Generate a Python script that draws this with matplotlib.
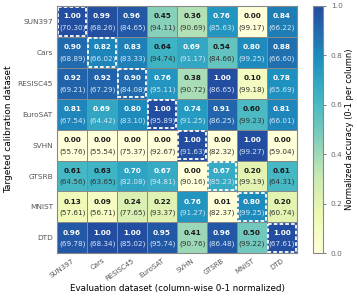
import numpy as np
import matplotlib
matplotlib.use("Agg")
import matplotlib.pyplot as plt
from matplotlib.colors import LinearSegmentedColormap
from matplotlib.patches import Rectangle

datasets = ["SUN397", "Cars", "RESISC45", "EuroSAT", "SVHN", "GTSRB", "MNIST", "DTD"]

# normalized accuracy (rows: calibration dataset, cols: evaluation dataset)
norm = np.array([
    [1.00, 0.99, 0.96, 0.45, 0.36, 0.76, 0.00, 0.84],
    [0.90, 0.82, 0.83, 0.64, 0.69, 0.54, 0.80, 0.88],
    [0.92, 0.92, 0.90, 0.76, 0.38, 1.00, 0.10, 0.78],
    [0.81, 0.69, 0.80, 1.00, 0.74, 0.91, 0.60, 0.81],
    [0.00, 0.00, 0.00, 0.00, 1.00, 0.00, 1.00, 0.00],
    [0.61, 0.63, 0.70, 0.67, 0.00, 0.67, 0.20, 0.61],
    [0.13, 0.09, 0.24, 0.22, 0.76, 0.01, 0.80, 0.20],
    [0.96, 1.00, 1.00, 0.95, 0.41, 0.96, 0.50, 1.00],
])

# raw accuracy (%)
raw = np.array([
    [70.30, 68.26, 84.65, 94.11, 90.69, 85.63, 99.17, 66.22],
    [68.89, 66.02, 83.33, 94.74, 91.17, 84.66, 99.25, 66.60],
    [69.21, 67.29, 84.08, 95.11, 90.72, 86.65, 99.18, 65.69],
    [67.54, 64.42, 83.10, 95.89, 91.25, 86.25, 99.23, 66.01],
    [55.76, 55.54, 75.37, 92.67, 91.63, 82.32, 99.27, 59.04],
    [64.56, 63.65, 82.08, 94.81, 90.16, 85.23, 99.19, 64.31],
    [57.61, 56.71, 77.65, 93.37, 91.27, 82.37, 99.25, 60.74],
    [69.78, 68.34, 85.02, 95.74, 90.76, 86.48, 99.22, 67.61],
])

base = plt.get_cmap("YlGnBu")
cmap = LinearSegmentedColormap.from_list("ylgnbu_cut", base(np.linspace(0.0, 0.8, 256)))

fig = plt.figure(figsize=(3.57, 2.98), dpi=100)
ax = fig.add_axes([0.16, 0.15, 0.672, 0.83])
cax = fig.add_axes([0.877, 0.15, 0.028, 0.83])

n = len(datasets)
mesh = ax.pcolormesh(np.arange(n + 1) - 0.5, np.arange(n + 1) - 0.5, norm,
                     cmap=cmap, vmin=0, vmax=1, edgecolor="#888888", linewidth=0.5)
ax.set_xlim(-0.5, n - 0.5)
ax.set_ylim(n - 0.5, -0.5)

for i in range(n):
    for j in range(n):
        v = norm[i, j]
        if v >= 0.65:
            c1, c2 = "white", "#d6e8f5"
        else:
            c1, c2 = "#1a1a1a", "#333333"
        ax.text(j, i - 0.16, f"{v:.2f}", ha="center", va="center",
                fontsize=5.2, fontweight="bold", color=c1)
        ax.text(j, i + 0.2, f"({raw[i, j]:.2f})", ha="center", va="center",
                fontsize=5.2, color=c2)
    ax.add_patch(Rectangle((i - 0.46, i - 0.46), 0.92, 0.92, fill=False,
                           edgecolor="white", linestyle=(0, (2, 1.2)), linewidth=1.3))

ax.set_xticks(range(n))
ax.set_yticks(range(n))
ax.set_xticklabels(datasets, rotation=35, ha="right", rotation_mode="anchor",
                   fontsize=5, color="#555555")
ax.set_yticklabels(datasets, fontsize=5.3, color="#555555")
ax.tick_params(length=0, pad=3)
for s in ax.spines.values():
    s.set_color("#888888")
    s.set_linewidth(0.8)

ax.set_xlabel("Evaluation dataset (column-wise 0-1 normalized)", fontsize=6.3, labelpad=2)
ax.set_ylabel("Targeted calibration dataset", fontsize=6.5, labelpad=3)

cb = fig.colorbar(mesh, cax=cax)
cb.set_ticks([0.0, 0.2, 0.4, 0.6, 0.8, 1.0])
cb.ax.tick_params(labelsize=5.3, colors="#666666", length=2, width=0.6)
cb.outline.set_edgecolor("#888888")
cb.set_label("Normalized accuracy (0-1 per column)", fontsize=6, labelpad=2)

fig.savefig("out.png", dpi=100)
